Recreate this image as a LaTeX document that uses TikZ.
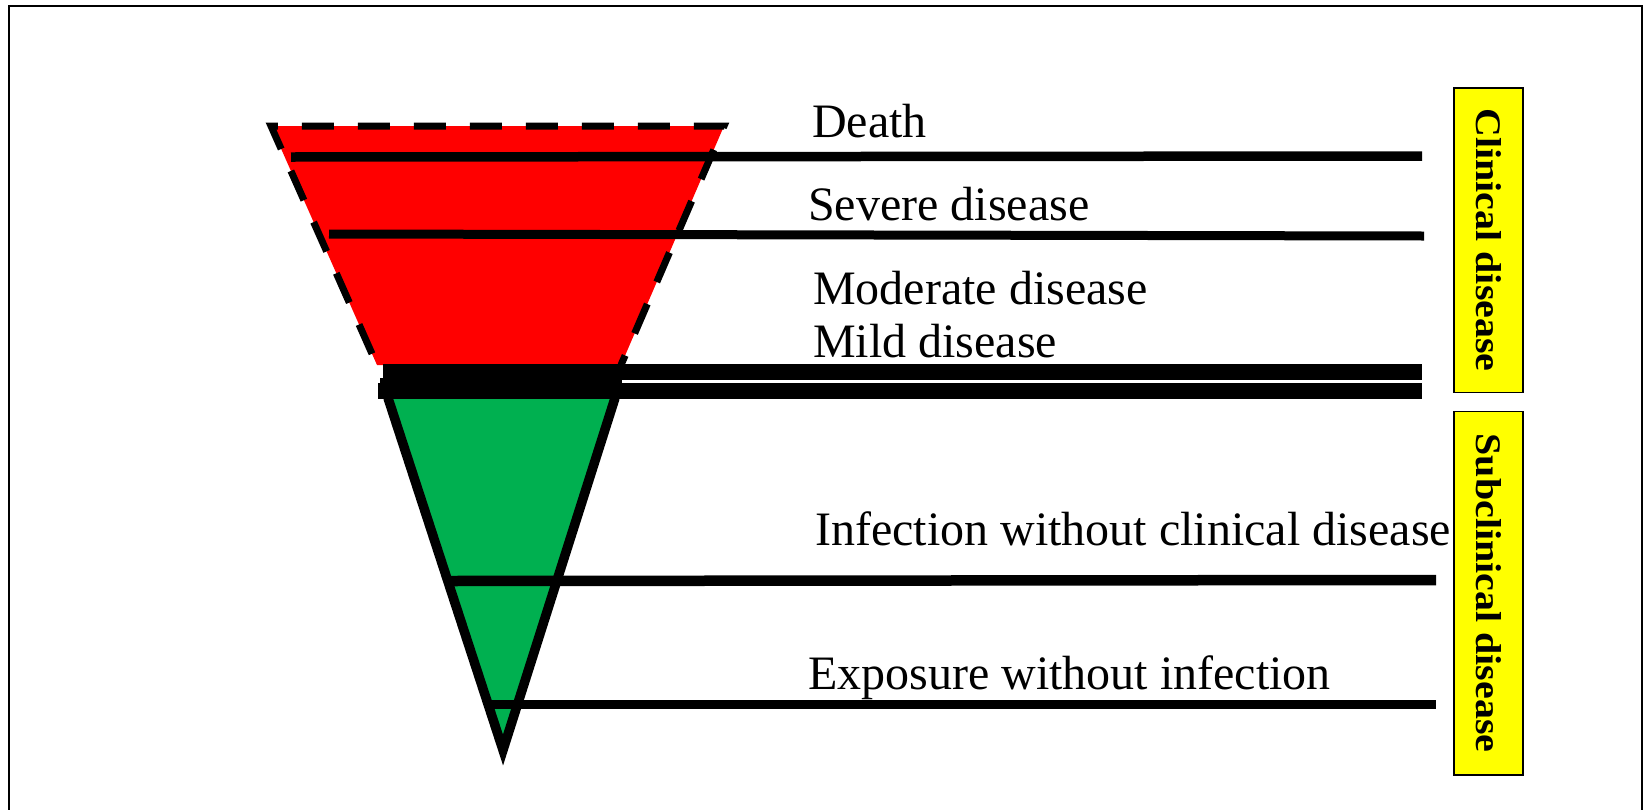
\documentclass[tikz,border=0pt]{standalone}
\usepackage{fontspec}
\setmainfont{Liberation Serif}
\definecolor{redfill}{HTML}{FF0000}
\definecolor{greenfill}{HTML}{00B050}
\definecolor{yellowfill}{HTML}{FFFF00}
\begin{document}
\begin{tikzpicture}[x=1pt,y=-1pt,
  lbl/.style={anchor=base west, inner sep=0pt, font=\fontsize{48}{58}\selectfont},
  levelline/.style={line width=#1},
  sidebox/.style={draw=black, line width=1.5pt, fill=yellowfill, inner sep=0pt,
    rotate=-90, font=\bfseries\fontsize{36}{40}\selectfont},
  dashedge/.style={line width=7pt, dash pattern=on 32pt off 24pt, dash phase=21.6pt}
]
\useasboundingbox (0,0) rectangle (1644,809);
% outer frame
\draw[line width=2.5pt] (9,820) -- (9,6) -- (1642,6) -- (1642,820);

% funnel corners
\coordinate (rTL) at (271,126);
\coordinate (rTR) at (724,126);
\coordinate (rBR) at (621,365);
\coordinate (rBL) at (377,365);
\coordinate (gTL) at (388,398);
\coordinate (gTR) at (615,398);
\coordinate (gTip) at (503,750);

% red part
\fill[redfill] (rTL) -- (rTR) -- (rBR) -- (rBL) -- cycle;
\draw[dashedge] (rBR) -- (rTR) -- (rTL) -- (rBL);

% green part
\filldraw[fill=greenfill, line width=9.5pt, miter limit=10] (gTL) -- (gTip) -- (gTR);

% level lines
\coordinate (deathL) at (291,157);   \coordinate (deathR) at (1422,156);
\coordinate (sevL) at (329,234);     \coordinate (sevR) at (1424,236);
\coordinate (mildAL) at (383,372);   \coordinate (mildAR) at (1422,372);
\coordinate (mildBL) at (378,391);   \coordinate (mildBR) at (1422,391);
\coordinate (infL) at (449,581);     \coordinate (infR) at (1436,580);
\coordinate (expL) at (490,704.5);   \coordinate (expR) at (1436,704.5);

\draw[levelline=9.5pt] (deathL) -- (deathR);
\draw[levelline=9pt] (sevL) -- (sevR);
\fill[black] (380,378) rectangle (622,385);
\draw[levelline=16pt] (mildAL) -- (mildAR);
\draw[levelline=16pt] (mildBL) -- (mildBR);
\draw[levelline=10.5pt] (infL) -- (infR);
\draw[levelline=9.5pt] (expL) -- (expR);

% labels
\node[lbl] (tDeath) at (812,137) {Death};
\node[lbl] (tSev) at (808,220) {Severe disease};
\node[lbl] (tMod) at (813,304) {Moderate disease};
\node[lbl] (tMild) at (813,357) {Mild disease};
\node[lbl] (tInf) at (815,545) {Infection without clinical disease};
\node[lbl] (tExp) at (808,689) {Exposure without infection};

% side boxes
\node[sidebox, minimum width=304.5pt, minimum height=69pt] (clin) at (1488.5,240)
  {\scalebox{1.11}[1]{Clinical disease}};
\node[sidebox, minimum width=363.5pt, minimum height=69pt] (subclin) at (1488.5,593)
  {\scalebox{1.11}[1]{Subclinical disease}};
\end{tikzpicture}
\end{document}
